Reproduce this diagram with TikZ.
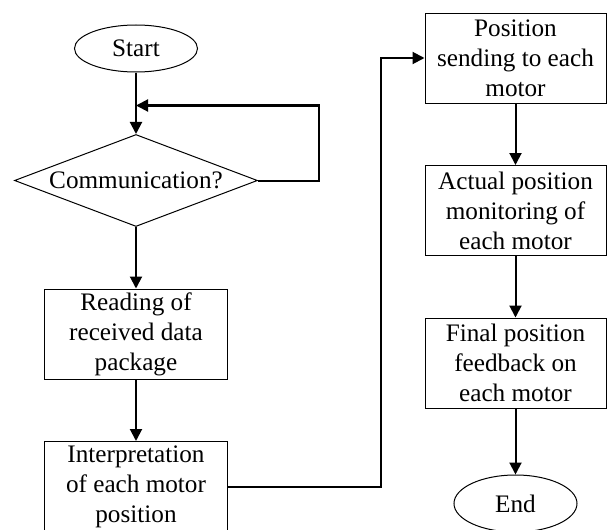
\documentclass[tikz,border=0pt]{standalone}
\usepackage{fontspec}
\setmainfont{Liberation Serif}
\usepackage{tikz}
\usetikzlibrary{calc}
\usetikzlibrary{arrows.meta}
\usetikzlibrary{positioning}
\usetikzlibrary{shapes.geometric}

\begin{document}
\begin{tikzpicture}[node distance=30.75pt, every node/.style={font=\fontsize{12.6pt}{15pt}\selectfont}]
			\tikzstyle{blk} = [draw, line width=0.5pt, rectangle, align=center, inner sep=1pt, minimum height=45pt, minimum width=91.5pt]
			\tikzstyle{term} = [draw, line width=0.5pt, ellipse, inner sep=1pt, minimum width=61.5pt, minimum height=23.5pt]
			\tikzstyle{dec} = [draw, line width=0.5pt, diamond, inner sep=0pt, aspect=2.64, minimum width=121.5pt, minimum height=46pt]
			\tikzstyle{arr} = [line width=1pt, -{Triangle[length=6pt,width=6pt]}]
			\useasboundingbox (0,0) rectangle (303.5pt,-265pt);

			\node[term] (start) at (68pt,-24.25pt) {Start};
			\node[dec, label={[fill=white, inner sep=0pt]center:Communication?}] (comm) [below=of start] {\makebox[0pt]{}};
			\node[blk] (read) [below=of comm] {Reading of\\received data\\package};
			\node[blk] (interp) [below=of read] {Interpretation\\of each motor\\position};

			\node[blk, minimum width=90.5pt] (send) at (257.75pt,-29pt) {Position\\sending to each\\motor};
			\node[blk, minimum width=90.5pt] (mon) [below=of send] {Actual position\\monitoring of\\each motor};
			\node[blk, minimum width=90.5pt] (fin) [below=of mon] {Final position\\feedback on\\each motor};
			\node[term, minimum height=28.5pt] (end) [below=33pt of fin] {End};

			\coordinate (back) at ([yshift=14.25pt]comm.north);

			\draw[arr] (start) -- (comm);
			\draw[arr] (comm.east) -- ++(30.5pt,0) |- (back);
			\draw[arr] (comm) -- (read);
			\draw[arr] (read) -- (interp);
			\draw[arr] (interp.east) -- ++(76.5pt,0) |- (send.west);
			\draw[arr] (send) -- (mon);
			\draw[arr] (mon) -- (fin);
			\draw[arr] (fin) -- (end);
	\end{tikzpicture}
\end{document}
